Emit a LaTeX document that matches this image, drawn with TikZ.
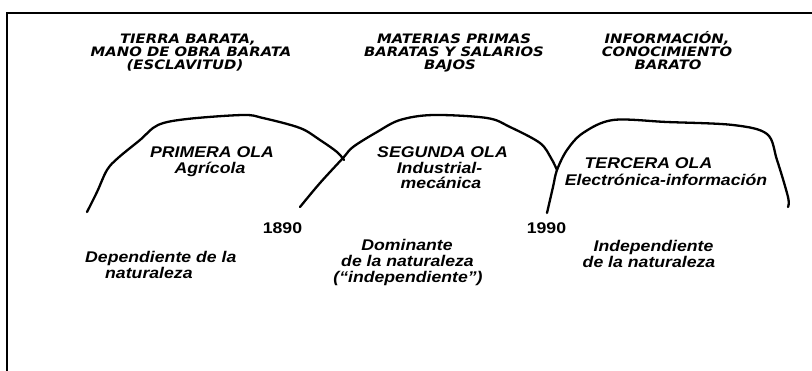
\documentclass[tikz,border=0pt]{standalone}
\usepackage{fontspec}
\newfontfamily\headfont{DejaVu Sans Bold Oblique}[FakeStretch=1.14]
\newfontfamily\bodyfont{Liberation Sans Bold Italic}[FakeStretch=1.14]
\newfontfamily\yearfont{Liberation Sans Bold}[FakeStretch=1.14]
\begin{document}
\begin{tikzpicture}[x=1pt,y=-1pt,
  head/.style={font=\headfont\fontsize{13}{13}\selectfont, anchor=base, inner sep=0pt},
  body/.style={font=\bodyfont\fontsize{15.5}{16}\selectfont, anchor=base, inner sep=0pt},
  year/.style={font=\yearfont\fontsize{15.5}{16}\selectfont, anchor=base, inner sep=0pt},
  wave/.style={line width=2.3pt, line join=round, line cap=round}]
\useasboundingbox (0,0) rectangle (812,370);
% frame
\draw[line width=2pt] (7,371) -- (7,13) -- (813,13);
% headings
\node[head] (h1a) at (188,43.7) {TIERRA BARATA,};
\node[head] (h1b) at (191,56.7) {MANO DE OBRA BARATA};
\node[head] (h1c) at (185,69.7) {(ESCLAVITUD)};
\node[head] (h2a) at (454,43.7) {MATERIAS PRIMAS};
\node[head] (h2b) at (454,56.7) {BARATAS Y SALARIOS};
\node[head] (h2c) at (450,69.7) {BAJOS};
\node[head] (h3a) at (667,43.7) {INFORMACIÓN,};
\node[head] (h3b) at (667,56.7) {CONOCIMIENTO};
\node[head] (h3c) at (668,69.7) {BARATO};
% waves
\draw[wave] plot[smooth, tension=0.55] coordinates {(87,212) (97,192) (107,170) (118,158) (140,140) (158,125) (187,119) (243,115) (263,118) (300,128) (320,140) (337,152) (344,160)};
\draw[wave] plot[smooth, tension=0.55] coordinates {(300,207) (320,183) (343,158) (353,147) (377,132) (400,120) (433,115) (487,118) (510,127) (540,143) (551,158) (557,170)};
\draw[wave] plot[smooth, tension=0.55] coordinates {(547,213) (553,187) (557,170) (567,150) (583,133) (613,120) (667,122) (733,125) (767,134) (777,160) (788,197) (788,207)};
% wave labels
\node[body] (w1a) at (212,157.5) {PRIMERA OLA};
\node[body] (w1b) at (210,173.5) {Agrícola};
\node[body] (w2a) at (442.5,157.5) {SEGUNDA OLA};
\node[body] (w2b) at (439.5,173.5) {Industrial-};
\node[body] (w2c) at (441,188.5) {mecánica};
\node[body] (w3a) at (648.5,168.5) {TERCERA OLA};
\node[body] (w3b) at (666,185.5) {Electrónica-información};
% years
\node[year] (y1) at (282.5,233.5) {1890};
\node[year] (y2) at (546.5,233.5) {1990};
% bottom texts
\node[body, anchor=base west] (d1a) at (85,262.5) {Dependiente de la};
\node[body, anchor=base west] (d1b) at (105,278) {naturaleza};
\node[body] (d2a) at (407,250.5) {Dominante};
\node[body] (d2b) at (407.5,266.5) {de la naturaleza};
\node[body] (d2c) at (408,282.5) {(“independiente”)};
\node[body] (d3a) at (653.5,251.5) {Independiente};
\node[body] (d3b) at (649,267.5) {de la naturaleza};
\end{tikzpicture}
\end{document}
